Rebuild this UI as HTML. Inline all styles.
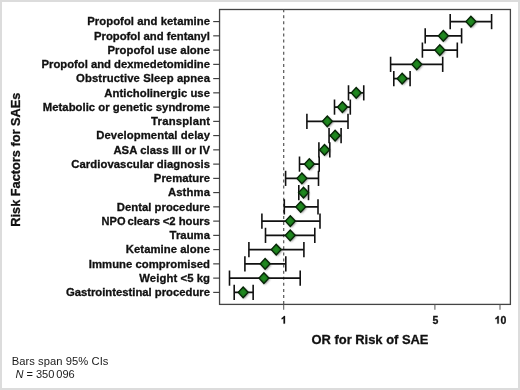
<!DOCTYPE html>
<html><head><meta charset="utf-8"><title>chart</title>
<style>
html,body{margin:0;padding:0;background:#fff;}
body{width:520px;height:390px;overflow:hidden;position:relative;font-family:"Liberation Sans",sans-serif;}
svg{position:absolute;left:0;top:0;display:block;will-change:transform;}
text{font-family:"Liberation Sans",sans-serif;fill:#111;}
.lbl{font-weight:bold;font-size:11.3px;text-anchor:end;stroke:#111;stroke-width:0.3px;}
.tk{font-weight:bold;font-size:10.5px;text-anchor:middle;stroke:#111;stroke-width:0.3px;}
.ttl{font-weight:bold;font-size:13.3px;text-anchor:middle;stroke:#111;stroke-width:0.3px;}
.ft{font-size:11.2px;fill:#1a1a1a;}
</style></head><body>
<svg width="520" height="390" viewBox="0 0 520 390">
<defs>
<radialGradient id="dg" cx="0.5" cy="0.5" r="0.6"><stop offset="0" stop-color="#238c23"/><stop offset="0.5" stop-color="#1a7c1a"/><stop offset="1" stop-color="#0c560c"/></radialGradient>
<filter id="sh" x="-40%" y="-40%" width="200%" height="200%"><feGaussianBlur stdDeviation="0.9"/></filter>
</defs>
<rect x="0" y="0" width="520" height="390" fill="#ffffff"/>
<rect x="1" y="1" width="518" height="388" fill="none" stroke="#dcdcdc" stroke-width="2"/>
<rect x="219.55" y="9.5" width="290.85" height="294.9" fill="#fff" stroke="#444" stroke-width="1.3"/>
<line x1="283.7" y1="9.2" x2="283.7" y2="304.4" stroke="#555" stroke-width="1.2" stroke-dasharray="3,3.08"/>
<line x1="283.7" y1="304.4" x2="283.7" y2="309.8" stroke="#5a5a5a" stroke-width="1.05"/>
<line x1="434.9" y1="304.4" x2="434.9" y2="309.8" stroke="#5a5a5a" stroke-width="1.05"/>
<line x1="500.0" y1="304.4" x2="500.0" y2="309.8" stroke="#5a5a5a" stroke-width="1.05"/>
<path fill="#111" stroke="#111" stroke-width="0.3" d="M285.00,323.60 L283.56,323.60 L283.56,318.17 Q282.77,318.91 281.70,319.26 L281.70,317.96 Q282.26,317.77 282.93,317.26 Q283.59,316.74 283.83,316.05 L285.00,316.05 Z"/>
<text class="tk" style="text-anchor:start" x="432.46" y="323.6">5</text>
<path fill="#111" stroke="#111" stroke-width="0.3" d="M498.74,323.60 L497.30,323.60 L497.30,318.17 Q496.51,318.91 495.44,319.26 L495.44,317.96 Q496.00,317.77 496.67,317.26 Q497.33,316.74 497.57,316.05 L498.74,316.05 Z"/>
<text class="tk" style="text-anchor:start" x="500.44" y="323.6">0</text>
<line x1="213.2" y1="21.60" x2="219.55" y2="21.60" stroke="#333" stroke-width="1.1"/>
<text class="lbl" x="210.0" y="25.40" textLength="122.8" lengthAdjust="spacing">Propofol and ketamine</text>
<line x1="213.2" y1="35.85" x2="219.55" y2="35.85" stroke="#333" stroke-width="1.1"/>
<text class="lbl" x="210.0" y="39.65" textLength="116.0" lengthAdjust="spacing">Propofol and fentanyl</text>
<line x1="213.2" y1="50.10" x2="219.55" y2="50.10" stroke="#333" stroke-width="1.1"/>
<text class="lbl" x="210.0" y="53.90" textLength="102.5" lengthAdjust="spacing">Propofol use alone</text>
<line x1="213.2" y1="64.35" x2="219.55" y2="64.35" stroke="#333" stroke-width="1.1"/>
<text class="lbl" x="210.0" y="68.15" textLength="168.5" lengthAdjust="spacing">Propofol and dexmedetomidine</text>
<line x1="213.2" y1="78.60" x2="219.55" y2="78.60" stroke="#333" stroke-width="1.1"/>
<text class="lbl" x="210.0" y="82.40" textLength="133.9" lengthAdjust="spacing">Obstructive Sleep apnea</text>
<line x1="213.2" y1="92.85" x2="219.55" y2="92.85" stroke="#333" stroke-width="1.1"/>
<text class="lbl" x="210.0" y="96.65" textLength="105.7" lengthAdjust="spacing">Anticholinergic use</text>
<line x1="213.2" y1="107.11" x2="219.55" y2="107.11" stroke="#333" stroke-width="1.1"/>
<text class="lbl" x="210.0" y="110.91" textLength="167.2" lengthAdjust="spacing">Metabolic or genetic syndrome</text>
<line x1="213.2" y1="121.36" x2="219.55" y2="121.36" stroke="#333" stroke-width="1.1"/>
<text class="lbl" x="210.0" y="125.16" textLength="58.9" lengthAdjust="spacing">Transplant</text>
<line x1="213.2" y1="135.61" x2="219.55" y2="135.61" stroke="#333" stroke-width="1.1"/>
<text class="lbl" x="210.0" y="139.41" textLength="113.8" lengthAdjust="spacing">Developmental delay</text>
<line x1="213.2" y1="149.86" x2="219.55" y2="149.86" stroke="#333" stroke-width="1.1"/>
<text class="lbl" x="210.0" y="153.66" textLength="96.6" lengthAdjust="spacing">ASA class III or IV</text>
<line x1="213.2" y1="164.11" x2="219.55" y2="164.11" stroke="#333" stroke-width="1.1"/>
<text class="lbl" x="210.0" y="167.91" textLength="138.7" lengthAdjust="spacing">Cardiovascular diagnosis</text>
<line x1="213.2" y1="178.36" x2="219.55" y2="178.36" stroke="#333" stroke-width="1.1"/>
<text class="lbl" x="210.0" y="182.16" textLength="56.2" lengthAdjust="spacing">Premature</text>
<line x1="213.2" y1="192.61" x2="219.55" y2="192.61" stroke="#333" stroke-width="1.1"/>
<text class="lbl" x="210.0" y="196.41" textLength="42.1" lengthAdjust="spacing">Asthma</text>
<line x1="213.2" y1="206.86" x2="219.55" y2="206.86" stroke="#333" stroke-width="1.1"/>
<text class="lbl" x="210.0" y="210.66" textLength="93.3" lengthAdjust="spacing">Dental procedure</text>
<line x1="213.2" y1="221.11" x2="219.55" y2="221.11" stroke="#333" stroke-width="1.1"/>
<text class="lbl" style="text-anchor:start" x="101.6" y="224.91" textLength="23.9" lengthAdjust="spacingAndGlyphs">NPO</text>
<text class="lbl" style="text-anchor:start" x="127.4" y="224.91">clears</text>
<text class="lbl" x="210.0" y="224.91" textLength="47.3" lengthAdjust="spacing">&lt;2 hours</text>
<line x1="213.2" y1="235.36" x2="219.55" y2="235.36" stroke="#333" stroke-width="1.1"/>
<text class="lbl" x="210.0" y="239.16" textLength="40.4" lengthAdjust="spacing">Trauma</text>
<line x1="213.2" y1="249.62" x2="219.55" y2="249.62" stroke="#333" stroke-width="1.1"/>
<text class="lbl" x="210.0" y="253.42" textLength="84.2" lengthAdjust="spacing">Ketamine alone</text>
<line x1="213.2" y1="263.87" x2="219.55" y2="263.87" stroke="#333" stroke-width="1.1"/>
<text class="lbl" x="210.0" y="267.67" textLength="121.2" lengthAdjust="spacing">Immune compromised</text>
<line x1="213.2" y1="278.12" x2="219.55" y2="278.12" stroke="#333" stroke-width="1.1"/>
<text class="lbl" x="210.0" y="281.92" textLength="70.7" lengthAdjust="spacing">Weight &lt;5 kg</text>
<line x1="213.2" y1="292.37" x2="219.55" y2="292.37" stroke="#333" stroke-width="1.1"/>
<text class="lbl" x="210.0" y="296.17" textLength="144.1" lengthAdjust="spacing">Gastrointestinal procedure</text>
<g stroke="#111" fill="none"><line x1="450.2" y1="21.60" x2="491.6" y2="21.60" stroke-width="1.75"/><line x1="450.2" y1="14.00" x2="450.2" y2="29.20" stroke-width="1.6"/><line x1="491.6" y1="14.00" x2="491.6" y2="29.20" stroke-width="1.6"/></g>
<path d="M466.90,22.60 L471.90,17.30 L476.90,22.60 L471.90,27.90 Z" fill="#444" opacity="0.75" filter="url(#sh)"/>
<path d="M465.90,21.60 L470.90,16.30 L475.90,21.60 L470.90,26.90 Z" fill="url(#dg)" stroke="#062406" stroke-width="1.35" stroke-linejoin="miter"/>
<g stroke="#111" fill="none"><line x1="425.2" y1="35.85" x2="461.6" y2="35.85" stroke-width="1.75"/><line x1="425.2" y1="28.25" x2="425.2" y2="43.45" stroke-width="1.6"/><line x1="461.6" y1="28.25" x2="461.6" y2="43.45" stroke-width="1.6"/></g>
<path d="M439.30,36.85 L444.30,31.55 L449.30,36.85 L444.30,42.15 Z" fill="#444" opacity="0.75" filter="url(#sh)"/>
<path d="M438.30,35.85 L443.30,30.55 L448.30,35.85 L443.30,41.15 Z" fill="url(#dg)" stroke="#062406" stroke-width="1.35" stroke-linejoin="miter"/>
<g stroke="#111" fill="none"><line x1="422.4" y1="50.10" x2="457.3" y2="50.10" stroke-width="1.75"/><line x1="422.4" y1="42.50" x2="422.4" y2="57.70" stroke-width="1.6"/><line x1="457.3" y1="42.50" x2="457.3" y2="57.70" stroke-width="1.6"/></g>
<path d="M435.80,51.10 L440.80,45.80 L445.80,51.10 L440.80,56.40 Z" fill="#444" opacity="0.75" filter="url(#sh)"/>
<path d="M434.80,50.10 L439.80,44.80 L444.80,50.10 L439.80,55.40 Z" fill="url(#dg)" stroke="#062406" stroke-width="1.35" stroke-linejoin="miter"/>
<g stroke="#111" fill="none"><line x1="390.6" y1="64.35" x2="442.7" y2="64.35" stroke-width="1.75"/><line x1="390.6" y1="56.75" x2="390.6" y2="71.95" stroke-width="1.6"/><line x1="442.7" y1="56.75" x2="442.7" y2="71.95" stroke-width="1.6"/></g>
<path d="M412.75,65.35 L417.75,60.05 L422.75,65.35 L417.75,70.65 Z" fill="#444" opacity="0.75" filter="url(#sh)"/>
<path d="M411.75,64.35 L416.75,59.05 L421.75,64.35 L416.75,69.65 Z" fill="url(#dg)" stroke="#062406" stroke-width="1.35" stroke-linejoin="miter"/>
<g stroke="#111" fill="none"><line x1="393.8" y1="78.60" x2="410.1" y2="78.60" stroke-width="1.75"/><line x1="393.8" y1="71.00" x2="393.8" y2="86.20" stroke-width="1.6"/><line x1="410.1" y1="71.00" x2="410.1" y2="86.20" stroke-width="1.6"/></g>
<path d="M398.15,79.60 L403.15,74.30 L408.15,79.60 L403.15,84.90 Z" fill="#444" opacity="0.75" filter="url(#sh)"/>
<path d="M397.15,78.60 L402.15,73.30 L407.15,78.60 L402.15,83.90 Z" fill="url(#dg)" stroke="#062406" stroke-width="1.35" stroke-linejoin="miter"/>
<g stroke="#111" fill="none"><line x1="348.5" y1="92.85" x2="363.75" y2="92.85" stroke-width="1.75"/><line x1="348.5" y1="85.25" x2="348.5" y2="100.45" stroke-width="1.6"/><line x1="363.75" y1="85.25" x2="363.75" y2="100.45" stroke-width="1.6"/></g>
<path d="M352.20,93.85 L357.20,88.55 L362.20,93.85 L357.20,99.15 Z" fill="#444" opacity="0.75" filter="url(#sh)"/>
<path d="M351.20,92.85 L356.20,87.55 L361.20,92.85 L356.20,98.15 Z" fill="url(#dg)" stroke="#062406" stroke-width="1.35" stroke-linejoin="miter"/>
<g stroke="#111" fill="none"><line x1="334.5" y1="107.11" x2="350.3" y2="107.11" stroke-width="1.75"/><line x1="334.5" y1="99.51" x2="334.5" y2="114.71" stroke-width="1.6"/><line x1="350.3" y1="99.51" x2="350.3" y2="114.71" stroke-width="1.6"/></g>
<path d="M338.40,108.11 L343.40,102.81 L348.40,108.11 L343.40,113.41 Z" fill="#444" opacity="0.75" filter="url(#sh)"/>
<path d="M337.40,107.11 L342.40,101.81 L347.40,107.11 L342.40,112.41 Z" fill="url(#dg)" stroke="#062406" stroke-width="1.35" stroke-linejoin="miter"/>
<g stroke="#111" fill="none"><line x1="306.9" y1="121.36" x2="348.0" y2="121.36" stroke-width="1.75"/><line x1="306.9" y1="113.76" x2="306.9" y2="128.96" stroke-width="1.6"/><line x1="348.0" y1="113.76" x2="348.0" y2="128.96" stroke-width="1.6"/></g>
<path d="M323.30,122.36 L328.30,117.06 L333.30,122.36 L328.30,127.66 Z" fill="#444" opacity="0.75" filter="url(#sh)"/>
<path d="M322.30,121.36 L327.30,116.06 L332.30,121.36 L327.30,126.66 Z" fill="url(#dg)" stroke="#062406" stroke-width="1.35" stroke-linejoin="miter"/>
<g stroke="#111" fill="none"><line x1="329.05" y1="135.61" x2="341.1" y2="135.61" stroke-width="1.75"/><line x1="329.05" y1="128.01" x2="329.05" y2="143.21" stroke-width="1.6"/><line x1="341.1" y1="128.01" x2="341.1" y2="143.21" stroke-width="1.6"/></g>
<path d="M331.10,136.61 L336.10,131.31 L341.10,136.61 L336.10,141.91 Z" fill="#444" opacity="0.75" filter="url(#sh)"/>
<path d="M330.10,135.61 L335.10,130.31 L340.10,135.61 L335.10,140.91 Z" fill="url(#dg)" stroke="#062406" stroke-width="1.35" stroke-linejoin="miter"/>
<g stroke="#111" fill="none"><line x1="318.9" y1="149.86" x2="329.8" y2="149.86" stroke-width="1.75"/><line x1="318.9" y1="142.26" x2="318.9" y2="157.46" stroke-width="1.6"/><line x1="329.8" y1="142.26" x2="329.8" y2="157.46" stroke-width="1.6"/></g>
<path d="M320.50,150.86 L325.50,145.56 L330.50,150.86 L325.50,156.16 Z" fill="#444" opacity="0.75" filter="url(#sh)"/>
<path d="M319.50,149.86 L324.50,144.56 L329.50,149.86 L324.50,155.16 Z" fill="url(#dg)" stroke="#062406" stroke-width="1.35" stroke-linejoin="miter"/>
<g stroke="#111" fill="none"><line x1="299.5" y1="164.11" x2="319.2" y2="164.11" stroke-width="1.75"/><line x1="299.5" y1="156.51" x2="299.5" y2="171.71" stroke-width="1.6"/><line x1="319.2" y1="156.51" x2="319.2" y2="171.71" stroke-width="1.6"/></g>
<path d="M305.30,165.11 L310.30,159.81 L315.30,165.11 L310.30,170.41 Z" fill="#444" opacity="0.75" filter="url(#sh)"/>
<path d="M304.30,164.11 L309.30,158.81 L314.30,164.11 L309.30,169.41 Z" fill="url(#dg)" stroke="#062406" stroke-width="1.35" stroke-linejoin="miter"/>
<g stroke="#111" fill="none"><line x1="285.6" y1="178.36" x2="318.5" y2="178.36" stroke-width="1.75"/><line x1="285.6" y1="170.76" x2="285.6" y2="185.96" stroke-width="1.6"/><line x1="318.5" y1="170.76" x2="318.5" y2="185.96" stroke-width="1.6"/></g>
<path d="M297.90,179.36 L302.90,174.06 L307.90,179.36 L302.90,184.66 Z" fill="#444" opacity="0.75" filter="url(#sh)"/>
<path d="M296.90,178.36 L301.90,173.06 L306.90,178.36 L301.90,183.66 Z" fill="url(#dg)" stroke="#062406" stroke-width="1.35" stroke-linejoin="miter"/>
<g stroke="#111" fill="none"><line x1="298.8" y1="192.61" x2="308.5" y2="192.61" stroke-width="1.75"/><line x1="298.8" y1="185.01" x2="298.8" y2="200.21" stroke-width="1.6"/><line x1="308.5" y1="185.01" x2="308.5" y2="200.21" stroke-width="1.6"/></g>
<path d="M299.50,193.61 L304.50,188.31 L309.50,193.61 L304.50,198.91 Z" fill="#444" opacity="0.75" filter="url(#sh)"/>
<path d="M298.50,192.61 L303.50,187.31 L308.50,192.61 L303.50,197.91 Z" fill="url(#dg)" stroke="#062406" stroke-width="1.35" stroke-linejoin="miter"/>
<g stroke="#111" fill="none"><line x1="284.3" y1="206.86" x2="318.0" y2="206.86" stroke-width="1.75"/><line x1="284.3" y1="199.26" x2="284.3" y2="214.46" stroke-width="1.6"/><line x1="318.0" y1="199.26" x2="318.0" y2="214.46" stroke-width="1.6"/></g>
<path d="M296.70,207.86 L301.70,202.56 L306.70,207.86 L301.70,213.16 Z" fill="#444" opacity="0.75" filter="url(#sh)"/>
<path d="M295.70,206.86 L300.70,201.56 L305.70,206.86 L300.70,212.16 Z" fill="url(#dg)" stroke="#062406" stroke-width="1.35" stroke-linejoin="miter"/>
<g stroke="#111" fill="none"><line x1="261.9" y1="221.11" x2="320.0" y2="221.11" stroke-width="1.75"/><line x1="261.9" y1="213.51" x2="261.9" y2="228.71" stroke-width="1.6"/><line x1="320.0" y1="213.51" x2="320.0" y2="228.71" stroke-width="1.6"/></g>
<path d="M286.30,222.11 L291.30,216.81 L296.30,222.11 L291.30,227.41 Z" fill="#444" opacity="0.75" filter="url(#sh)"/>
<path d="M285.30,221.11 L290.30,215.81 L295.30,221.11 L290.30,226.41 Z" fill="url(#dg)" stroke="#062406" stroke-width="1.35" stroke-linejoin="miter"/>
<g stroke="#111" fill="none"><line x1="265.5" y1="235.36" x2="314.8" y2="235.36" stroke-width="1.75"/><line x1="265.5" y1="227.76" x2="265.5" y2="242.96" stroke-width="1.6"/><line x1="314.8" y1="227.76" x2="314.8" y2="242.96" stroke-width="1.6"/></g>
<path d="M286.20,236.36 L291.20,231.06 L296.20,236.36 L291.20,241.66 Z" fill="#444" opacity="0.75" filter="url(#sh)"/>
<path d="M285.20,235.36 L290.20,230.06 L295.20,235.36 L290.20,240.66 Z" fill="url(#dg)" stroke="#062406" stroke-width="1.35" stroke-linejoin="miter"/>
<g stroke="#111" fill="none"><line x1="248.9" y1="249.62" x2="303.9" y2="249.62" stroke-width="1.75"/><line x1="248.9" y1="242.02" x2="248.9" y2="257.22" stroke-width="1.6"/><line x1="303.9" y1="242.02" x2="303.9" y2="257.22" stroke-width="1.6"/></g>
<path d="M272.20,250.62 L277.20,245.32 L282.20,250.62 L277.20,255.92 Z" fill="#444" opacity="0.75" filter="url(#sh)"/>
<path d="M271.20,249.62 L276.20,244.32 L281.20,249.62 L276.20,254.92 Z" fill="url(#dg)" stroke="#062406" stroke-width="1.35" stroke-linejoin="miter"/>
<g stroke="#111" fill="none"><line x1="244.9" y1="263.87" x2="285.8" y2="263.87" stroke-width="1.75"/><line x1="244.9" y1="256.27" x2="244.9" y2="271.47" stroke-width="1.6"/><line x1="285.8" y1="256.27" x2="285.8" y2="271.47" stroke-width="1.6"/></g>
<path d="M261.10,264.87 L266.10,259.57 L271.10,264.87 L266.10,270.17 Z" fill="#444" opacity="0.75" filter="url(#sh)"/>
<path d="M260.10,263.87 L265.10,258.57 L270.10,263.87 L265.10,269.17 Z" fill="url(#dg)" stroke="#062406" stroke-width="1.35" stroke-linejoin="miter"/>
<g stroke="#111" fill="none"><line x1="229.5" y1="278.12" x2="300.2" y2="278.12" stroke-width="1.75"/><line x1="229.5" y1="270.52" x2="229.5" y2="285.72" stroke-width="1.6"/><line x1="300.2" y1="270.52" x2="300.2" y2="285.72" stroke-width="1.6"/></g>
<path d="M259.90,279.12 L264.90,273.82 L269.90,279.12 L264.90,284.42 Z" fill="#444" opacity="0.75" filter="url(#sh)"/>
<path d="M258.90,278.12 L263.90,272.82 L268.90,278.12 L263.90,283.42 Z" fill="url(#dg)" stroke="#062406" stroke-width="1.35" stroke-linejoin="miter"/>
<g stroke="#111" fill="none"><line x1="234.2" y1="292.37" x2="253.15" y2="292.37" stroke-width="1.75"/><line x1="234.2" y1="284.77" x2="234.2" y2="299.97" stroke-width="1.6"/><line x1="253.15" y1="284.77" x2="253.15" y2="299.97" stroke-width="1.6"/></g>
<path d="M239.15,293.37 L244.15,288.07 L249.15,293.37 L244.15,298.67 Z" fill="#444" opacity="0.75" filter="url(#sh)"/>
<path d="M238.15,292.37 L243.15,287.07 L248.15,292.37 L243.15,297.67 Z" fill="url(#dg)" stroke="#062406" stroke-width="1.35" stroke-linejoin="miter"/>
<text class="ttl" x="370" y="344.3" textLength="117" lengthAdjust="spacingAndGlyphs">OR for Risk of SAE</text>
<text class="ttl" transform="translate(20.4,159.7) rotate(-90)" textLength="134" lengthAdjust="spacingAndGlyphs">Risk Factors for SAEs</text>
<text class="ft" x="11.7" y="364.5" textLength="96.7" lengthAdjust="spacing">Bars span 95% CIs</text>
<text class="ft" style="font-size:11.05px" x="15.4" y="378"><tspan font-style="italic">N</tspan> = 350<tspan dx="1.9">096</tspan></text>
</svg></body></html>
